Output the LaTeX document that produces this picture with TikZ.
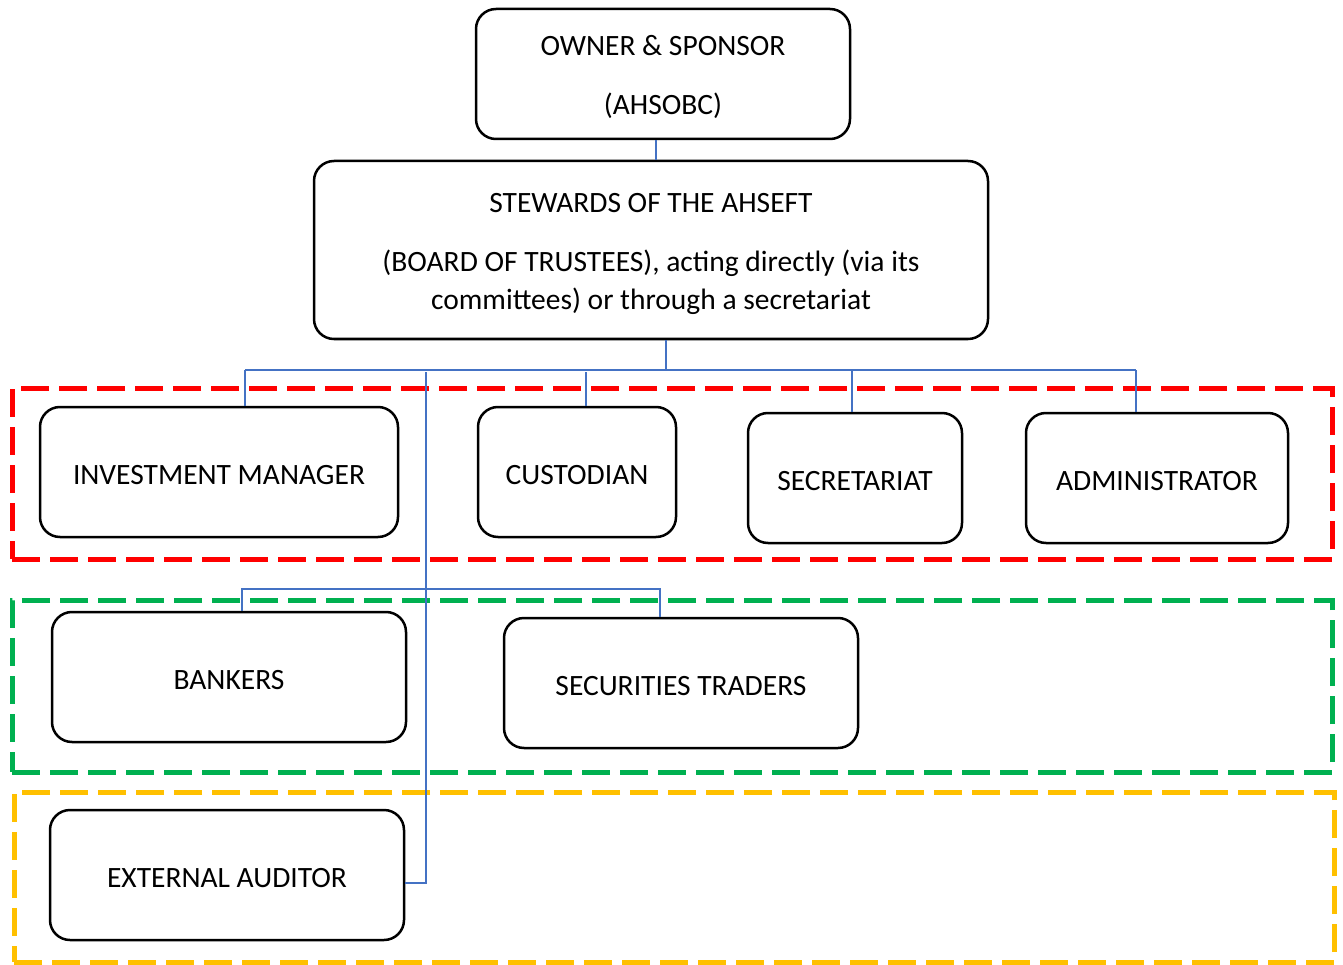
\documentclass[tikz,border=0pt]{standalone}
\usepackage{fontspec}
\setmainfont{Carlito}
\definecolor{zgreen}{RGB}{0,176,80}
\definecolor{zyellow}{RGB}{255,192,0}
\definecolor{cblue}{RGB}{68,114,196}
\newcommand{\onel}[1]{\raisebox{-3pt}[\height][\depth]{#1}}
\newcommand{\multl}[1]{\raisebox{-3.3pt}[\height][\depth]{\begin{tabular}{@{}c@{}}#1\end{tabular}}}
\begin{document}
\begin{tikzpicture}[x=1pt,y=-1pt,
  box/.style={draw=black,line width=2.5pt,rounded corners=20pt,fill=white,inner sep=0pt,
    font=\fontsize{29.5}{38}\selectfont},
  zone/.style={draw=#1,line width=5pt,dash pattern=on 28pt off 10pt,inner sep=0pt},
  conn/.style={draw=cblue,line width=1.2pt}]
\useasboundingbox (0,0) rectangle (1343,965);
% zones
\node[zone=red,minimum width=1320pt,minimum height=171pt] (zr) at (672,473.5) {};
\node[zone=zgreen,minimum width=1320pt,minimum height=172pt] (zg) at (672,686) {};
\node[zone=zyellow,minimum width=1320pt,minimum height=170pt] (zy) at (674,877) {};
% boxes
\node[box,minimum width=374pt,minimum height=130pt] (owner) at (663,74) {\multl{OWNER \& SPONSOR\\[21pt](AHSOBC)}};
\node[box,minimum width=674pt,minimum height=178pt] (stew) at (651,250) {\multl{STEWARDS OF THE AHSEFT\\[21pt](BOARD OF TRUSTEES), acting directly (via its\\committees) or through a secretariat}};
\node[box,minimum width=358pt,minimum height=130pt] (inv) at (219,472) {\onel{INVESTMENT MANAGER}};
\node[box,minimum width=198pt,minimum height=130pt] (cust) at (577,472) {\onel{CUSTODIAN}};
\node[box,minimum width=214pt,minimum height=130pt] (secr) at (855,478) {\onel{SECRETARIAT}};
\node[box,minimum width=262pt,minimum height=130pt] (admin) at (1157,478) {\onel{ADMINISTRATOR}};
\node[box,minimum width=354pt,minimum height=130pt] (bank) at (229,677) {\onel{BANKERS}};
\node[box,minimum width=354pt,minimum height=130pt] (sec) at (681,683) {\onel{SECURITIES TRADERS}};
\node[box,minimum width=354pt,minimum height=130pt] (aud) at (227,875) {\onel{EXTERNAL AUDITOR}};
% connectors
\coordinate (o1) at (656,0);
\draw[conn] (o1 |- owner.south) -- (o1 |- stew.north);
\coordinate (s1) at (666,370);
\draw[conn] (s1 |- stew.south) -- (s1);
\coordinate (bl) at (245,370);
\coordinate (br) at (1136,370);
\draw[conn] (bl) -- (br);
\draw[conn] (bl) -- (bl |- inv.north);
\coordinate (c1) at (586,372);
\draw[conn] (c1) -- (c1 |- cust.north);
\coordinate (c2) at (852,370);
\draw[conn] (c2) -- (c2 |- secr.north);
\draw[conn] (br) -- (br |- admin.north);
\coordinate (t1) at (426,372);
\coordinate (t2) at (426,883);
\draw[conn] (t1) -- (t2) -- (t2 -| aud.east);
\coordinate (h1) at (242,589);
\coordinate (h2) at (660,589);
\draw[conn] (h1 |- bank.north) -- (h1) -- (h2) -- (h2 |- sec.north);
\end{tikzpicture}
\end{document}
